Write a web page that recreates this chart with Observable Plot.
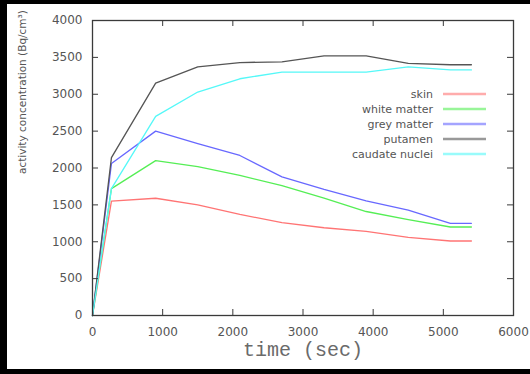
<!DOCTYPE html>
<html>
<head>
<meta charset="utf-8">
<script src="https://cdn.jsdelivr.net/npm/d3@7"></script>
<script src="https://cdn.jsdelivr.net/npm/@observablehq/plot@0.6"></script>
<style>
  html, body { margin: 0; padding: 0; background: #000; width: 530px; height: 374px; overflow: hidden; }
  #panel { position: absolute; left: 7px; top: 4px; width: 523px; height: 365px; background: #fff; }
</style>
</head>
<body>
<div id="panel"></div>
<script>
const times   = [0, 270, 900, 1500, 2100, 2700, 3300, 3900, 4500, 5100, 5400];
const skin    = [0, 1550, 1590, 1500, 1370, 1260, 1190, 1140, 1060, 1010, 1010];
const white   = [0, 1720, 2100, 2020, 1900, 1760, 1590, 1410, 1300, 1200, 1200];
const greyM   = [0, 2060, 2500, 2330, 2170, 1880, 1710, 1555, 1430, 1250, 1250];
const putamen = [0, 2140, 3150, 3370, 3430, 3440, 3520, 3520, 3420, 3400, 3400];
const caudate = [0, 1720, 2700, 3030, 3210, 3300, 3300, 3300, 3370, 3330, 3330];

const seriesNames  = ["skin", "white matter", "grey matter", "putamen", "caudate nuclei"];
const seriesValues = [skin, white, greyM, putamen, caudate];
const seriesColors = ["#ff7474", "#55ee55", "#6868ff", "#555555", "#55f8f8"];

const xTicks = [0, 1000, 2000, 3000, 4000, 5000, 6000];
const yTicks = [0, 500, 1000, 1500, 2000, 2500, 3000, 3500, 4000];
const xLabel = "time (sec)";
const yLabel = "activity concentration (Bq/cm³)";

const rows = [];
seriesNames.forEach((name, s) => {
  times.forEach((t, i) => rows.push({series: name, t, v: seriesValues[s][i]}));
});

const W = 523, H = 365;
const mL = 85, mT = 16, mR = 17, mB = 54;
const innerH = H - mT - mB, innerW = W - mL - mR;
const tickLen = 6;
const axisColor = "#3a3a3a";
const textColor = "#555";

const chart = Plot.plot({
  width: W,
  height: H,
  marginLeft: mL, marginTop: mT, marginRight: mR, marginBottom: mB,
  style: {fontFamily: "DejaVu Sans", background: "#fff", color: textColor},
  x: {domain: [0, 6000]},
  y: {domain: [0, 4000]},
  color: {domain: seriesNames, range: seriesColors},
  marks: [
    Plot.line(rows, {x: "t", y: "v", z: "series", stroke: "series", strokeWidth: 1.3}),
    Plot.frame({stroke: axisColor, strokeWidth: 1.3}),
    Plot.tickX(xTicks, {x: d => d, insetTop: innerH - tickLen, stroke: axisColor}),
    Plot.tickX(xTicks, {x: d => d, insetBottom: innerH - tickLen, stroke: axisColor}),
    Plot.tickY(yTicks, {y: d => d, insetRight: innerW - tickLen, stroke: axisColor}),
    Plot.tickY(yTicks, {y: d => d, insetLeft: innerW - tickLen, stroke: axisColor}),
    Plot.axisX({ticks: xTicks, tickSize: 0, tickPadding: 12, fontSize: 12, label: null, tickFormat: d => String(d)}),
    Plot.axisY({ticks: yTicks, tickSize: 0, tickPadding: 10, fontSize: 12, label: null, tickFormat: d => String(d)}),
    Plot.text([xLabel], {frameAnchor: "bottom", dy: 40, text: d => d, fontFamily: "Liberation Mono", fontSize: 20, fill: "#6a6a6a"}),
    Plot.text([yLabel], {frameAnchor: "left", dx: -70, dy: 6, rotate: -90, text: d => d, fontSize: 10.5, fill: textColor})
  ]
});

document.getElementById("panel").appendChild(chart);

const svg = d3.select(chart);
const lg = svg.append("g").attr("font-family", "DejaVu Sans").attr("font-size", 11);
seriesNames.forEach((name, i) => {
  const y = 90 + i * 15;
  lg.append("text").attr("x", 426).attr("y", y).attr("dy", "0.35em")
    .attr("text-anchor", "end").attr("fill", textColor).text(name);
  lg.append("line").attr("x1", 436).attr("x2", 479).attr("y1", y).attr("y2", y)
    .attr("stroke", seriesColors[i]).attr("stroke-width", 2.5).attr("stroke-opacity", 0.6);
});
</script>
</body>
</html>
